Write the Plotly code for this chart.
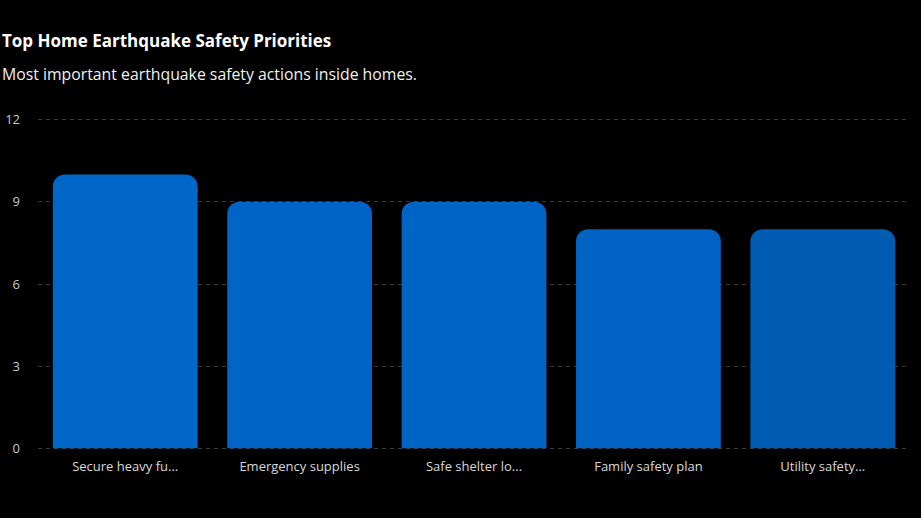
import plotly.graph_objects as go

categories = ["Secure heavy fu...", "Emergency supplies", "Safe shelter lo...", "Family safety plan", "Utility safety..."]
values = [10, 9, 9, 8, 8]
bar_colors = ["#0066C8", "#0064C6", "#0064C5", "#0062C2", "#005BB3"]
y_ticks = [0, 3, 6, 9, 12]
title_text = "Top Home Earthquake Safety Priorities"
subtitle_text = "Most important earthquake safety actions inside homes."

fig = go.Figure()
fig.add_trace(go.Bar(
    x=categories,
    y=values,
    marker=dict(color=bar_colors, line=dict(width=0), cornerradius=12),
    hoverinfo="x+y",
))

font_family = "Open Sans, Noto Sans, sans-serif"
fig.update_layout(
    width=921,
    height=518,
    paper_bgcolor="#000000",
    plot_bgcolor="#000000",
    margin=dict(l=38, r=11, t=118, b=68),
    bargap=0.17,
    showlegend=False,
    font=dict(family=font_family, color="#d0d0d0", size=13),
    xaxis=dict(
        showgrid=False, zeroline=False, showline=False, automargin=False,
        tickfont=dict(size=13, color="#d8d8d8"),
        ticks="", ticklabelstandoff=7,
    ),
    yaxis=dict(
        range=[-0.06, 12.06],
        tickvals=y_ticks,
        showgrid=True, gridcolor="#3a3a3a", griddash="4px,4px", gridwidth=1,
        zeroline=False, showline=False, automargin=False,
        tickfont=dict(size=13, color="#c8c8c8"),
        ticks="", ticklabelstandoff=17,
    ),
)
fig.add_annotation(
    text="<b>" + title_text + "</b>",
    xref="paper", yref="paper", x=0, y=1, xanchor="left", yanchor="middle",
    xshift=-38, yshift=78,
    showarrow=False, font=dict(size=17, color="#ffffff", family=font_family),
)
fig.add_annotation(
    text=subtitle_text,
    xref="paper", yref="paper", x=0, y=1, xanchor="left", yanchor="middle",
    xshift=-38, yshift=44,
    showarrow=False, font=dict(size=15.8, color="#f0f0f0", family=font_family),
)

fig.write_html(
    "out.html",
    config={"displayModeBar": False},
    post_script="document.body.style.margin='0';document.body.style.background='#000';",
)
